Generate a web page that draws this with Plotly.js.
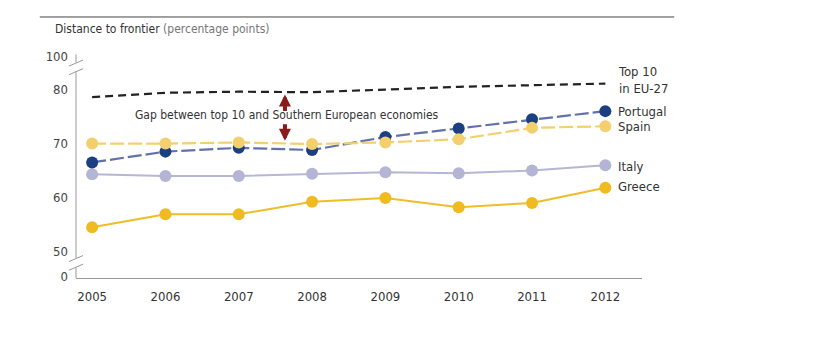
<!DOCTYPE html>
<html>
<head>
<meta charset="utf-8">
<script src="https://cdn.plot.ly/plotly-3.0.1.min.js"></script>
<style>html,body{margin:0;padding:0;background:#fff;}#chart{width:818px;height:354px;}</style>
</head>
<body>
<div id="chart"></div>
<script>
var years = [2005, 2006, 2007, 2008, 2009, 2010, 2011, 2012];
var top10 = [78.5, 79.3, 79.5, 79.4, 79.9, 80.4, 80.7, 81.0];
var portugal = [66.4, 68.4, 69.1, 68.7, 71.1, 72.7, 74.4, 75.9];
var spain = [69.9, 69.9, 70.1, 69.8, 70.1, 70.7, 72.8, 73.1];
var italy = [64.2, 63.9, 63.9, 64.3, 64.6, 64.4, 64.9, 65.9];
var greece = [54.4, 56.8, 56.8, 59.1, 59.8, 58.1, 58.9, 61.7];
// broken axis: 0 and 100 drawn at pseudo positions
var yTickVals = [45.2, 50, 60, 70, 80, 86.0];
var yTickText = ['0', '50', '60', '70', '80', '100'];
var seriesLabels = ['Top 10<br>in EU-27', 'Portugal', 'Spain', 'Italy', 'Greece'];
var labelY = [81.6, 75.9, 73.1, 65.7, 61.9];

var FONT = 'Liberation Sans Narrow, Arial Narrow, DejaVu Sans Condensed, sans-serif';

var traces = [
  {x: years, y: top10, mode: 'lines', line: {color: '#222', width: 2.2, dash: '8px,5px'}, hoverinfo: 'skip'},
  {x: years, y: italy, mode: 'lines+markers', line: {color: '#b6b6d6', width: 2}, marker: {color: '#b4b4d4', size: 12}},
  {x: years, y: greece, mode: 'lines+markers', line: {color: '#efbd27', width: 2}, marker: {color: '#efbb20', size: 12}},
  {x: years, y: portugal, mode: 'lines+markers', line: {color: '#6470ac', width: 2.2, dash: '14px,4px'}, marker: {color: '#1c3f82', size: 12}},
  {x: years, y: spain, mode: 'lines+markers', line: {color: '#f3cf6e', width: 2.2, dash: '14px,4px'}, marker: {color: '#f3cf6e', size: 12}}
];

var annotations = [
  {xref: 'paper', yref: 'paper', x: -0.04, y: 1.10, xanchor: 'left', yanchor: 'middle', showarrow: false,
   text: 'Distance to frontier <span style="color:#777">(percentage points)</span>', font: {family: FONT, size: 12, color: '#333'}},
  {x: 2007.66, y: 75.2, showarrow: false, text: 'Gap between top 10 and Southern European economies',
   font: {family: FONT, size: 12, color: '#333'}},
  {x: 2007.63, y: 79.0, ax: 0, ay: 18, showarrow: true, arrowhead: 2, arrowsize: 0.6, arrowwidth: 4, arrowcolor: '#8b1a1a', text: ''},
  {x: 2007.63, y: 70.4, ax: 0, ay: -18, showarrow: true, arrowhead: 2, arrowsize: 0.6, arrowwidth: 4, arrowcolor: '#8b1a1a', text: ''}
];
for (var i = 0; i < seriesLabels.length; i++) {
  annotations.push({x: 2012.14, y: labelY[i], xanchor: 'left', yanchor: 'middle', showarrow: false, align: 'left',
    text: seriesLabels[i], font: {family: FONT, size: 13, color: '#333'}});
}

function brk(v) {
  return {type: 'line', xref: 'paper', xsizemode: 'pixel', xanchor: 0, x0: -7, x1: 7,
          yref: 'y', ysizemode: 'pixel', yanchor: v, y0: -3, y1: 3, line: {color: '#999', width: 1}};
}
function gap(v0, v1) {
  return {type: 'rect', xref: 'paper', xsizemode: 'pixel', xanchor: 0, x0: -3, x1: 3,
          yref: 'y', y0: v0, y1: v1, fillcolor: '#fff', line: {width: 0}};
}
var shapes = [
  {type: 'line', xref: 'paper', yref: 'paper', x0: -0.064, x1: 1.057, y0: 1.155, y1: 1.155, line: {color: '#444', width: 1}},
  {type: 'line', xref: 'paper', yref: 'y', x0: 0, x1: 0, y0: 45, y1: 86.4, line: {color: '#999', width: 1}},
  gap(46.9, 48.7), gap(83.1, 84.9),
  brk(48.6), brk(47.0), brk(84.8), brk(83.2)
];

var layout = {
  width: 818, height: 354,
  margin: {l: 76, r: 176, t: 52, b: 76},
  paper_bgcolor: '#fff', plot_bgcolor: '#fff',
  showlegend: false,
  font: {family: FONT, size: 12, color: '#333'},
  xaxis: {range: [2004.78, 2012.5], tickvals: years, ticktext: years.map(String), showgrid: false, zeroline: false,
          showline: true, linecolor: '#999', linewidth: 1, ticks: '', ticklabelstandoff: 6,
          tickfont: {family: FONT, size: 13, color: '#333'}},
  yaxis: {range: [45, 86.85], tickvals: yTickVals, ticktext: yTickText, showgrid: false, zeroline: false,
          showline: false, ticks: '', ticklabelstandoff: 7, tickfont: {family: FONT, size: 13, color: '#444'}},
  annotations: annotations,
  shapes: shapes
};

Plotly.newPlot('chart', traces, layout, {displayModeBar: false, staticPlot: true});
</script>
</body>
</html>
